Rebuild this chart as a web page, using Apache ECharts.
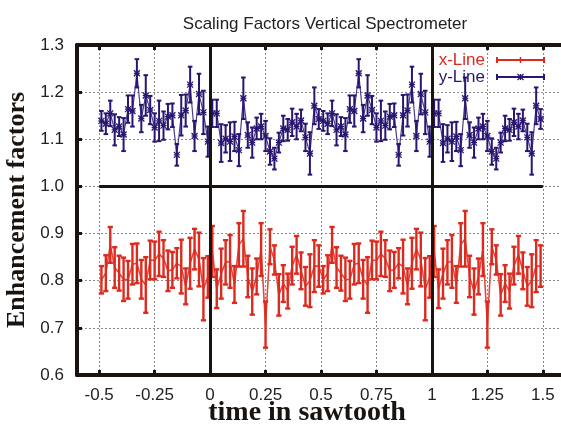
<!DOCTYPE html>
<html><head><meta charset="utf-8">
<script src="https://cdn.jsdelivr.net/npm/echarts@6/dist/echarts.min.js"></script>
<style>html,body{margin:0;padding:0;background:#fff}#c{width:561px;height:428px}</style>
</head><body><div id="c"></div>
<script>
// one sawtooth period (phase), plotted for two consecutive cycles
const phaseX = [-0.49,-0.47,-0.45,-0.43,-0.41,-0.39,-0.37,-0.35,-0.33,-0.31,-0.29,-0.27,-0.25,-0.23,-0.21,-0.19,-0.17,-0.15,-0.13,-0.11,-0.09,-0.07,-0.05,-0.03,-0.01,
  0.01,0.03,0.05,0.07,0.09,0.11,0.13,0.15,0.17,0.19,0.21,0.23,0.25,0.27,0.29,0.31,0.33,0.35,0.37,0.39,0.41,0.43,0.45,0.47,0.49];
const cycles = [0, 1];
const yLineVal = [1.139,1.133,1.155,1.120,1.127,1.110,1.164,1.160,1.240,1.144,1.193,1.162,1.125,1.139,1.129,1.148,1.151,1.067,1.151,1.161,1.216,1.107,1.196,1.157,1.095,
  1.155,1.155,1.092,1.101,1.095,1.106,1.077,1.187,1.109,1.093,1.123,1.127,1.107,1.074,1.059,1.093,1.123,1.120,1.136,1.127,1.140,1.104,1.070,1.171,1.143];
const yLineErr = [0.021,0.022,0.027,0.033,0.020,0.035,0.029,0.033,0.030,0.029,0.043,0.030,0.030,0.043,0.030,0.027,0.025,0.023,0.043,0.034,0.038,0.032,0.043,0.046,0.032,
  0.029,0.029,0.040,0.029,0.041,0.031,0.034,0.044,0.027,0.032,0.023,0.027,0.032,0.028,0.023,0.021,0.027,0.023,0.029,0.027,0.023,0.029,0.045,0.039,0.021];
const xLineVal = [0.802,0.816,0.876,0.828,0.816,0.803,0.802,0.835,0.837,0.803,0.791,0.844,0.843,0.857,0.847,0.821,0.823,0.837,0.830,0.788,0.837,0.867,0.845,0.782,0.808,
  0.862,0.783,0.815,0.839,0.841,0.792,0.876,0.889,0.809,0.777,0.809,0.866,0.707,0.872,0.844,0.770,0.794,0.778,0.832,0.855,0.821,0.788,0.800,0.831,0.831];
const xLineErr = [0.029,0.038,0.038,0.043,0.037,0.046,0.040,0.043,0.042,0.041,0.059,0.041,0.040,0.047,0.039,0.043,0.038,0.032,0.057,0.038,0.054,0.043,0.057,0.066,0.044,
  0.054,0.041,0.053,0.047,0.056,0.039,0.046,0.059,0.044,0.049,0.038,0.056,0.049,0.037,0.031,0.044,0.039,0.037,0.040,0.040,0.039,0.041,0.056,0.055,0.044];
const xTickLabels = [-0.5,-0.25,0,0.25,0.5,0.75,1,1.25,1.5];
const titleText = 'Scaling Factors Vertical Spectrometer';
const xName = 'time in sawtooth';
const yName = 'Enhancement factors';

const RED = '#dc2a1e', BLUE = '#2a1670';

function build(vals, errs) {
  const out = [];
  cycles.forEach(c => phaseX.forEach((p, i) => out.push([+(p + c).toFixed(2), vals[i], errs[i]])));
  return out;
}
const yData = build(yLineVal, yLineErr);
const xData = build(xLineVal, xLineErr);

function errItem(color, star, lw, cw) {
  return function (params, api) {
    const x = api.value(0), v = api.value(1), e = api.value(2);
    const t = api.coord([x, v + e]), b = api.coord([x, v - e]), c = api.coord([x, v]);
    const st = { stroke: color, lineWidth: lw };
    const ch = [
      { type: 'line', shape: { x1: t[0], y1: t[1], x2: b[0], y2: b[1] }, style: st },
      { type: 'line', shape: { x1: t[0] - cw, y1: t[1], x2: t[0] + cw, y2: t[1] }, style: st },
      { type: 'line', shape: { x1: b[0] - cw, y1: b[1], x2: b[0] + cw, y2: b[1] }, style: st }
    ];
    if (star) {
      const s = 3, ss = { stroke: color, lineWidth: 1.3 };
      ch.push({ type: 'line', shape: { x1: c[0] - s, y1: c[1], x2: c[0] + s, y2: c[1] }, style: ss });
      ch.push({ type: 'line', shape: { x1: c[0], y1: c[1] - s, x2: c[0], y2: c[1] + s }, style: ss });
      ch.push({ type: 'line', shape: { x1: c[0] - s, y1: c[1] - s, x2: c[0] + s, y2: c[1] + s }, style: ss });
      ch.push({ type: 'line', shape: { x1: c[0] - s, y1: c[1] + s, x2: c[0] + s, y2: c[1] - s }, style: ss });
    }
    return { type: 'group', children: ch };
  };
}

const font = 'Liberation Sans';
const gridLine = { show: true, lineStyle: { color: '#8a8a8a', type: [2, 2], width: 1 } };

const chart = echarts.init(document.getElementById('c'));
chart.setOption({
  animation: false,
  backgroundColor: '#fff',
  title: { text: titleText, left: 320, textAlign: 'center', top: 11,
    textStyle: { fontFamily: font, fontSize: 17, fontWeight: 'normal', color: '#222' } },
  grid: { left: 77, top: 45, width: 488, height: 330, outerBoundsMode: 'none', containLabel: false },
  xAxis: [{
    type: 'value', min: -0.6, max: 1.6, position: 'bottom',
    axisLine: { show: true, onZero: false, lineStyle: { color: '#1a1410', width: 4 } },
    axisTick: { show: true, inside: true, length: 5, customValues: xTickLabels, lineStyle: { color: '#1a1410', width: 3 } },
    axisLabel: { customValues: xTickLabels, margin: 12, fontFamily: font, fontSize: 17, color: '#222' },
    splitLine: gridLine
  }, {
    type: 'value', min: -0.6, max: 1.6, position: 'top',
    axisLine: { show: true, onZero: false, lineStyle: { color: '#1a1410', width: 4 } },
    axisTick: { show: true, inside: true, length: 5, customValues: xTickLabels, lineStyle: { color: '#1a1410', width: 3 } },
    axisLabel: { show: false, customValues: xTickLabels },
    splitLine: { show: false }
  }],
  yAxis: {
    type: 'value', min: 0.6, max: 1.3, interval: 0.1,
    axisLine: { show: true, onZero: false, lineStyle: { color: '#1a1410', width: 4 } },
    axisTick: { show: true, inside: true, length: 5, lineStyle: { color: '#1a1410', width: 3 } },
    axisLabel: { margin: 13, fontFamily: font, fontSize: 17, color: '#222', formatter: v => v.toFixed(1) },
    splitLine: gridLine
  },
  graphic: [
    { type: 'text', x: 485, y: 60, style: { text: 'x-Line', fill: RED, font: '17px "Liberation Sans"', textAlign: 'right', textVerticalAlign: 'middle' }, z: 100 },
    { type: 'text', x: 485, y: 77, style: { text: 'y-Line', fill: BLUE, font: '17px "Liberation Sans"', textAlign: 'right', textVerticalAlign: 'middle' }, z: 100 },
    { type: 'line', shape: { x1: 497, y1: 60, x2: 544, y2: 60 }, style: { stroke: RED, lineWidth: 2 }, z: 100 },
    { type: 'line', shape: { x1: 497, y1: 57, x2: 497, y2: 63 }, style: { stroke: RED, lineWidth: 2 }, z: 100 },
    { type: 'line', shape: { x1: 544, y1: 57, x2: 544, y2: 63 }, style: { stroke: RED, lineWidth: 2 }, z: 100 },
    { type: 'line', shape: { x1: 520.5, y1: 57, x2: 520.5, y2: 63 }, style: { stroke: RED, lineWidth: 1.5 }, z: 100 },
    { type: 'line', shape: { x1: 497, y1: 77, x2: 544, y2: 77 }, style: { stroke: BLUE, lineWidth: 2 }, z: 100 },
    { type: 'line', shape: { x1: 497, y1: 74, x2: 497, y2: 80 }, style: { stroke: BLUE, lineWidth: 2 }, z: 100 },
    { type: 'line', shape: { x1: 544, y1: 74, x2: 544, y2: 80 }, style: { stroke: BLUE, lineWidth: 2 }, z: 100 },
    { type: 'line', shape: { x1: 517.5, y1: 77, x2: 523.5, y2: 77 }, style: { stroke: BLUE, lineWidth: 1.3 }, z: 100 },
    { type: 'line', shape: { x1: 520.5, y1: 74, x2: 520.5, y2: 80 }, style: { stroke: BLUE, lineWidth: 1.3 }, z: 100 },
    { type: 'line', shape: { x1: 517.5, y1: 74, x2: 523.5, y2: 80 }, style: { stroke: BLUE, lineWidth: 1.3 }, z: 100 },
    { type: 'line', shape: { x1: 517.5, y1: 80, x2: 523.5, y2: 74 }, style: { stroke: BLUE, lineWidth: 1.3 }, z: 100 },
    { type: 'text', x: 307, y: 413, style: { text: xName, fill: '#1a1410', font: 'bold 28px "Liberation Serif"', textAlign: 'center', textVerticalAlign: 'middle' } },
    { type: 'text', x: 17, y: 210, rotation: Math.PI / 2, style: { text: yName, fill: '#1a1410', font: 'bold 26px "Liberation Serif"', textAlign: 'center', textVerticalAlign: 'middle' } }
  ],
  series: [
    { type: 'line', data: xData.map(d => [d[0], d[1]]), showSymbol: false, lineStyle: { color: '#e4473d', width: 1.6 }, z: 3 },
    { type: 'custom', data: xData, renderItem: errItem(RED, false, 2.4, 2.6), z: 4 },
    { type: 'line', data: yData.map(d => [d[0], d[1]]), showSymbol: false, lineStyle: { color: '#4b3c8c', width: 1.2 }, z: 3 },
    { type: 'custom', data: yData, renderItem: errItem(BLUE, true, 2, 2.3), z: 4 },
    { type: 'line', data: [], z: 10, markLine: { silent: true, symbol: ['none', 'none'], label: { show: false },
        lineStyle: { color: '#1a1410', width: 3, type: 'solid' },
        data: [ { xAxis: 0 }, { xAxis: 1 }, [ { coord: [-0.5, 1] }, { coord: [1.5, 1] } ] ] } }
  ]
});
</script></body></html>
